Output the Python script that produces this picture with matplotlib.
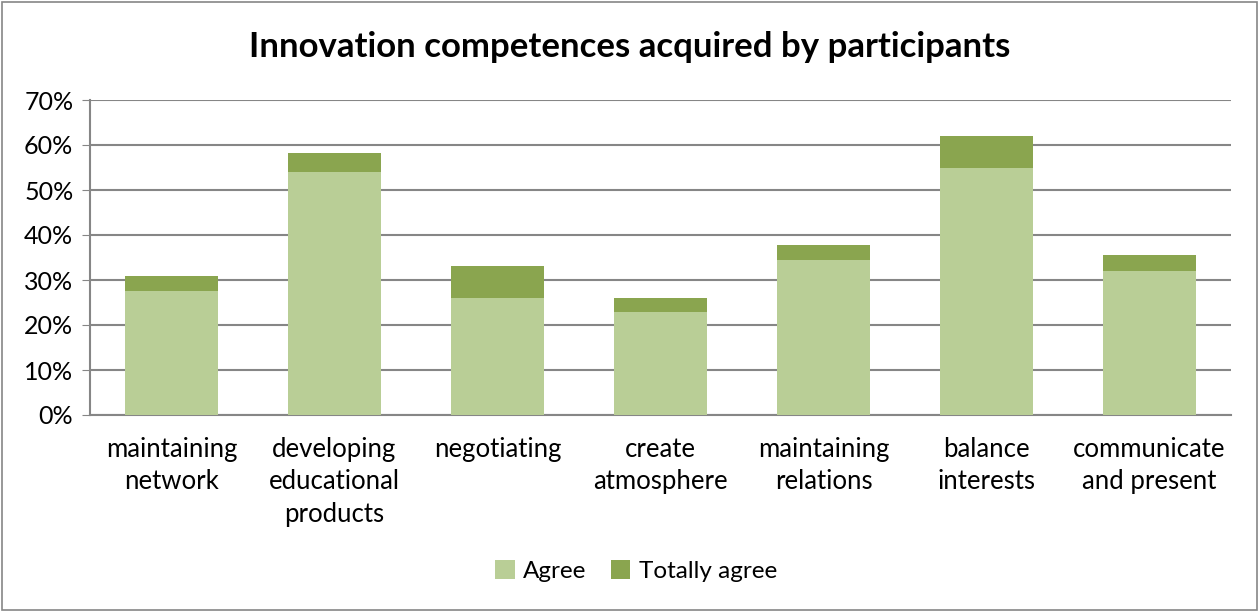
import matplotlib
matplotlib.use("Agg")
import matplotlib.pyplot as plt
from matplotlib.ticker import PercentFormatter
from matplotlib.patches import Rectangle

categories = ["maintaining\nnetwork", "developing\neducational\nproducts", "negotiating",
              "create\natmosphere", "maintaining\nrelations", "balance\ninterests",
              "communicate\nand present"]
agree = [27.5, 54.1, 25.9, 23.0, 34.5, 55.0, 32.1]
totally_agree = [3.4, 4.2, 7.3, 2.9, 3.3, 7.0, 3.5]
yticks = [0, 10, 20, 30, 40, 50, 60, 70]

plt.rcParams['font.family'] = ['Lato', 'DejaVu Sans']

fig = plt.figure(figsize=(12.59, 6.12), dpi=100)
ax = fig.add_axes([90/1259, 1-415/612, (1231-90)/1259, 315/612])

x = list(range(len(categories)))
ax.bar(x, agree, width=0.57, color="#B9CE96", label="Agree", zorder=3)
ax.bar(x, totally_agree, bottom=agree, width=0.57, color="#8AA54F", label="Totally agree", zorder=3)

ax.set_xlim(-0.5, len(categories)-0.5)
ax.set_ylim(0, 70)
ax.set_yticks(yticks)
ax.yaxis.set_major_formatter(PercentFormatter(decimals=0))
ax.set_xticks(x)
ax.set_xticklabels(categories, fontsize=18.5, linespacing=1.36)
ax.tick_params(axis='y', labelsize=18, length=6, color="#868686", pad=6)
ax.tick_params(axis='x', length=0, pad=16)
ax.grid(axis='y', color="#868686", linewidth=1.5, zorder=0)
for s in ["top", "right"]:
    ax.spines[s].set_visible(False)
for s in ["left", "bottom"]:
    ax.spines[s].set_color("#868686")
    ax.spines[s].set_linewidth(1.5)
for lbl in ax.get_xticklabels():
    lbl.set_verticalalignment('top')

fig.text(0.5, 1-47/612, "Innovation competences acquired by participants",
         ha='center', va='center', fontsize=25, fontweight='bold')

fig.legend(loc='center', bbox_to_anchor=(636/1259, 1-571/612), ncol=2, frameon=False,
           fontsize=17.5, handlelength=0.8, handleheight=0.8, columnspacing=1.0, handletextpad=0.35)

fig.patches.append(Rectangle((0.0015, 0.003), 0.997, 0.994, transform=fig.transFigure,
                             fill=False, edgecolor="#868686", linewidth=1.2))

fig.savefig("out.png", dpi=100)
